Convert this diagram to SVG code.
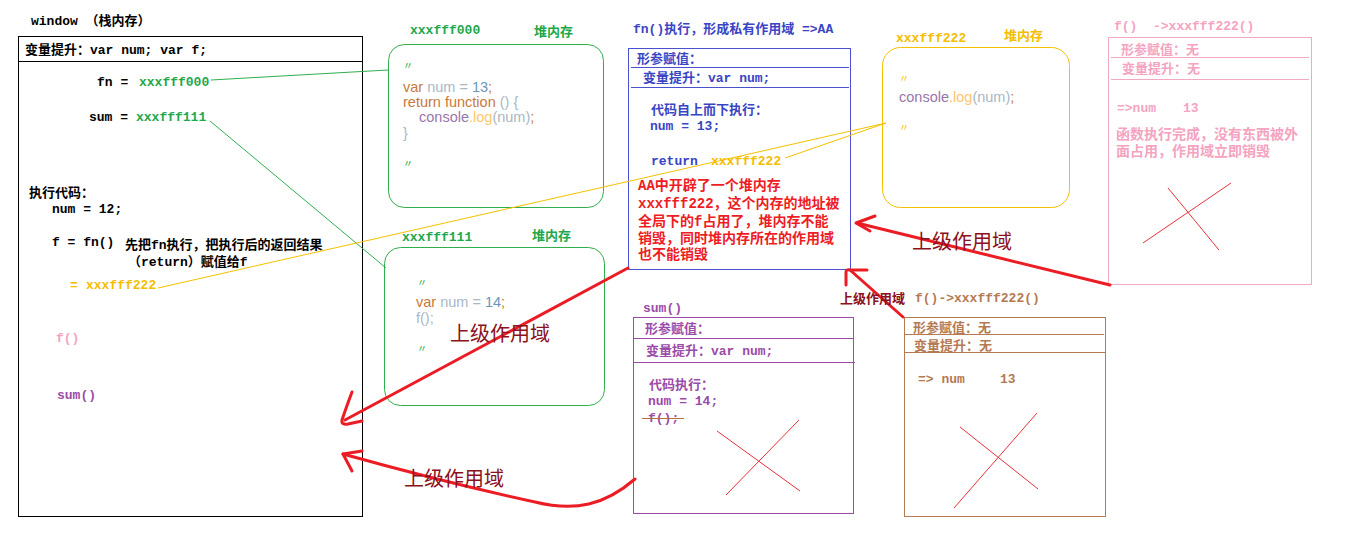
<svg xmlns="http://www.w3.org/2000/svg" width="1351" height="535" viewBox="0 0 1351 535">
<style>
.m{font-family:"Liberation Mono","Noto Sans CJK SC",monospace;font-weight:bold;font-size:13px}
.m14{font-family:"Liberation Mono","Noto Sans CJK SC",monospace;font-weight:bold;font-size:14px}
.c{font-family:"Liberation Sans","Noto Sans",sans-serif;font-size:14.5px}
.q{font-family:"Noto Sans CJK SC",sans-serif;font-size:10px}
.big{font-family:"Noto Sans CJK SC",sans-serif;font-size:20px;fill:#8b1020}
.k{fill:#000}.g{fill:#22a84a}.y{fill:#f5bd00}.b{fill:#3a45c4}.r{fill:#ee1c24}.p{fill:#f4a3c1}.pu{fill:#9b4ba8}.br{fill:#b57a52}
.kw{fill:#c9793a}.id{fill:#a9b7c6}.nu{fill:#6897bb}.fn{fill:#9876aa}.lg{fill:#ffc66d}
.arrow{fill:none;stroke:#ec1c24;stroke-width:3;stroke-linecap:round;stroke-linejoin:round}
.x{stroke:#e8303a;stroke-width:1;fill:none}
</style>
<rect width="1351" height="535" fill="#fff"/>

<g id="window">
<text class="m k" x="31" y="25">window （栈内存）</text>
<rect x="18.5" y="36.5" width="344" height="480" fill="none" stroke="#000"/>
<line x1="18.5" y1="61.5" x2="362.5" y2="61.5" stroke="#000"/>
<text class="m k" x="25" y="54">变量提升：var num; var f;</text>
<text class="m k" x="97" y="86">fn =</text>
<text class="m g" x="139" y="86">xxxfff000</text>
<text class="m k" x="89" y="121">sum =</text>
<text class="m g" x="136" y="121">xxxfff111</text>
<text class="m k" x="29" y="197">执行代码：</text>
<text class="m k" x="52" y="213">num = 12;</text>
<text class="m k" x="52" y="246">f = fn()</text>
<text class="m k" x="125" y="249">先把fn执行，把执行后的返回结果</text>
<text class="m k" x="128" y="266">（return）赋值给f</text>
<text class="m y" x="70" y="289">=</text>
<text class="m y" x="86" y="289">xxxfff222</text>
<text class="m p" x="56" y="342">f()</text>
<text class="m pu" x="57" y="399">sum()</text>
</g>

<g id="heap000">
<text class="m g" x="410" y="34">xxxfff000</text>
<text class="m g" x="534" y="36">堆内存</text>
<rect x="388.5" y="44.5" width="215" height="163" rx="16" fill="none" stroke="#2fae4e"/>
<text class="q g" x="403" y="69">〃</text>
<text class="c" x="403" y="92"><tspan class="kw">var</tspan><tspan class="id"> num = </tspan><tspan class="nu">13</tspan><tspan class="kw">;</tspan></text>
<text class="c" x="403" y="107"><tspan class="kw">return function</tspan><tspan class="id"> () {</tspan></text>
<text class="c" x="419" y="122"><tspan class="fn">console</tspan><tspan class="lg">.log</tspan><tspan class="id">(num)</tspan><tspan class="kw">;</tspan></text>
<text class="c id" x="403" y="138">}</text>
<text class="q g" x="403" y="167">〃</text>
</g>

<g id="heap111">
<text class="m g" x="402" y="241">xxxfff111</text>
<text class="m g" x="532" y="240">堆内存</text>
<rect x="384.5" y="247.5" width="220" height="158" rx="16" fill="none" stroke="#2fae4e"/>
<text class="q g" x="417" y="286">〃</text>
<text class="c" x="416" y="307"><tspan class="kw">var</tspan><tspan class="id"> num = </tspan><tspan class="nu">14</tspan><tspan class="kw">;</tspan></text>
<text class="c id" x="416" y="323">f();</text>
<text class="q g" x="417" y="352">〃</text>
</g>

<g id="scopeAA">
<text class="m b" x="633" y="33">fn()执行，形成私有作用域 =&gt;AA</text>
<rect x="628.5" y="48.5" width="222" height="221" fill="none" stroke="#4a50d0"/>
<line x1="631" y1="67.5" x2="849" y2="67.5" stroke="#4a50d0"/>
<line x1="631" y1="87.5" x2="849" y2="87.5" stroke="#4a50d0"/>
<text class="m b" x="637" y="63">形参赋值：</text>
<text class="m b" x="643" y="82">变量提升：var num;</text>
<text class="m b" x="651" y="114">代码自上而下执行：</text>
<text class="m b" x="650" y="130">num = 13;</text>
<text class="m b" x="651" y="165">return</text>
<text class="m y" x="711" y="165">xxxfff222</text>
<text class="m14 r" x="638" y="190">AA中开辟了一个堆内存</text>
<text class="m14 r" x="638" y="208">xxxfff222，这个内存的地址被</text>
<text class="m14 r" x="638" y="226">全局下的f占用了，堆内存不能</text>
<text class="m14 r" x="638" y="243">销毁，同时堆内存所在的作用域</text>
<text class="m14 r" x="638" y="259">也不能销毁</text>
</g>

<g id="heap222">
<text class="m y" x="896" y="42">xxxfff222</text>
<text class="m y" x="1004" y="40">堆内存</text>
<rect x="882.5" y="47.5" width="187" height="160" rx="18" fill="none" stroke="#f5c000"/>
<text class="q y" x="899" y="82">〃</text>
<text class="c" x="899" y="102"><tspan class="fn">console</tspan><tspan class="lg">.log</tspan><tspan class="id">(num)</tspan><tspan class="kw">;</tspan></text>
<text class="q y" x="899" y="131">〃</text>
</g>

<g id="scopeF1">
<text class="m p" x="1114" y="30">f()<tspan x="1153">-&gt;xxxfff222()</tspan></text>
<rect x="1108.5" y="37.5" width="203" height="247" fill="none" stroke="#f4a9c2"/>
<line x1="1111" y1="57.5" x2="1309" y2="57.5" stroke="#f4a9c2"/>
<line x1="1111" y1="79.5" x2="1309" y2="79.5" stroke="#f4a9c2"/>
<text class="m p" x="1121" y="54">形参赋值：无</text>
<text class="m p" x="1122" y="73">变量提升：无</text>
<text class="m p" x="1117" y="112">=&gt;num</text>
<text class="m p" x="1183" y="112">13</text>
<text class="m14 p" x="1116" y="139">函数执行完成，没有东西被外</text>
<text class="m14 p" x="1116" y="156">面占用，作用域立即销毁</text>
<line class="x" x1="1168" y1="188" x2="1219" y2="250"/>
<line class="x" x1="1143" y1="243" x2="1231" y2="183"/>
</g>

<g id="scopeSum">
<text class="m pu" x="643" y="312">sum()</text>
<rect x="633.5" y="317.5" width="220" height="196" fill="none" stroke="#9b4ba8"/>
<line x1="634" y1="338.5" x2="853" y2="338.5" stroke="#9b4ba8"/>
<line x1="634" y1="362.5" x2="855" y2="362.5" stroke="#9b4ba8"/>
<text class="m pu" x="645" y="333">形参赋值：</text>
<text class="m pu" x="646" y="355">变量提升：var num;</text>
<text class="m pu" x="649" y="389">代码执行：</text>
<text class="m pu" x="648" y="405">num = 14;</text>
<text class="m pu" x="648" y="422">f();</text>
<line x1="642" y1="418.5" x2="684" y2="418.5" stroke="#b5703a"/>
<line class="x" x1="717" y1="431" x2="800" y2="491"/>
<line class="x" x1="726" y1="495" x2="799" y2="420"/>
</g>

<g id="scopeF2">
<text class="m br" x="915" y="302">f()-&gt;xxxfff222()</text>
<rect x="904.5" y="317.5" width="201" height="199" fill="none" stroke="#b57a52"/>
<line x1="905" y1="334.5" x2="1104" y2="334.5" stroke="#b57a52"/>
<line x1="905" y1="352.5" x2="1105" y2="352.5" stroke="#b57a52"/>
<text class="m br" x="913" y="332">形参赋值：无</text>
<text class="m br" x="914" y="350">变量提升：无</text>
<text class="m br" x="918" y="383">=&gt; num</text>
<text class="m br" x="1000" y="383">13</text>
<line class="x" x1="960" y1="427" x2="1038" y2="489"/>
<line class="x" x1="954" y1="508" x2="1037" y2="413"/>
</g>

<g id="connectors">
<line x1="211" y1="80" x2="388" y2="70" stroke="#2fae4e" stroke-width="1"/>
<line x1="210" y1="121" x2="386" y2="268" stroke="#2fae4e" stroke-width="1"/>
<line x1="158" y1="288" x2="886" y2="123" stroke="#f5c000" stroke-width="1"/>
<line x1="785" y1="158" x2="886" y2="123" stroke="#f5c000" stroke-width="1"/>

<path class="arrow" d="M1110,285 L857,223"/>
<path class="arrow" d="M875,216 L856,223 L870,231"/>
<text class="big" x="912" y="249">上级作用域</text>

<path class="arrow" d="M903,317 L850,270"/>
<path class="arrow" d="M846,285 L846,272 Q846,269 850,270 L867,270"/>
<text class="m" x="840" y="303" style="fill:#8b1020">上级作用域</text>

<path class="arrow" d="M628,268 L345,420"/>
<path class="arrow" d="M352,392 Q346,408 342,420 Q341,425 348,424 L362,421"/>
<text class="big" x="450" y="341">上级作用域</text>

<path class="arrow" d="M635,479 C605,505 575,512 535,502 C480,490 400,470 343,454"/>
<path class="arrow" d="M362,451 L343,454 L352,471"/>
<text class="big" x="404" y="486">上级作用域</text>
</g>
</svg>
